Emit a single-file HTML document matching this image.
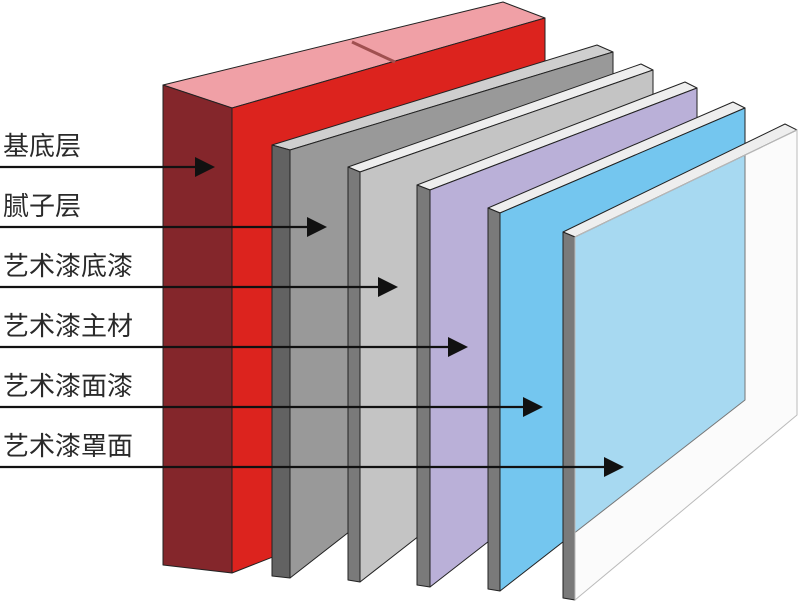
<!DOCTYPE html>
<html><head><meta charset="utf-8"><style>
html,body{margin:0;padding:0;background:#fff;}
svg{display:block;}
text{font-family:"Liberation Sans","Noto Sans CJK SC",sans-serif;font-size:26px;fill:#2a2a2a;}
</style></head><body>
<svg width="800" height="602" viewBox="0 0 800 602" xmlns="http://www.w3.org/2000/svg">
<g stroke="#222" stroke-width="1" stroke-linejoin="round">
<!-- red block -->
<polygon points="163,85 232,108 545,18 503,2" fill="#f0a0a6"/>
<polygon points="163,85 232,108 232,573 163,565" fill="#84262b"/>
<polygon points="232,108 545,18 545,450 232,573" fill="#dc231e"/>
<line x1="352" y1="42" x2="395" y2="62" stroke="#a05050" stroke-width="3"/>

<!-- plate 1 gray -->
<polygon points="272,145 290,150 613,52 597,45" fill="#cfcfcf"/>
<polygon points="272,145 290,150 290,578 272,576" fill="#626262"/>
<polygon points="290,150 613,52 613,326 290,578" fill="#999999"/>
<!-- plate 2 -->
<polygon points="348,167 360,172 653,70 641,64" fill="#eeeeee"/>
<polygon points="348,167 360,172 360,582 348,580" fill="#7a7a7a"/>
<polygon points="360,172 653,70 653,353 360,582" fill="#c4c4c4"/>
<!-- plate 3 -->
<polygon points="417,185 430,190 697,88 685,82" fill="#eeeeee"/>
<polygon points="417,185 430,190 430,587 417,585" fill="#7a7a7a"/>
<polygon points="430,190 697,88 697,379 430,587" fill="#bab0d8"/>
<!-- plate 4 -->
<polygon points="488,208 500,213 745,108 733,102" fill="#eeeeee"/>
<polygon points="488,208 500,213 500,591 488,589" fill="#7a7a7a"/>
<polygon points="500,213 745,108 745,400 500,591" fill="#74c6ef"/>
<!-- plate 5 glass -->
<polygon points="563,232 575,237 797,130 785,124" fill="#eeeeee"/>
<polygon points="563,232 575,237 575,600 563,598" fill="#7a7a7a"/>
<polygon points="575,237 797,130 797,415 575,600" fill="#f5f5f5" fill-opacity="0.4" stroke="#bbb"/>
</g>

<!-- arrows -->
<g stroke="#111" stroke-width="2.2">
<line x1="0" y1="167" x2="200" y2="167"/>
<line x1="0" y1="227" x2="312" y2="227"/>
<line x1="0" y1="287" x2="383" y2="287"/>
<line x1="0" y1="347" x2="453" y2="347"/>
<line x1="0" y1="407" x2="528" y2="407"/>
<line x1="0" y1="467" x2="609" y2="467"/>
</g>
<g fill="#111">
<polygon points="195,157 215,167 195,177"/>
<polygon points="307,217 327,227 307,237"/>
<polygon points="378,277 398,287 378,297"/>
<polygon points="448,337 468,347 448,357"/>
<polygon points="523,397 543,407 523,417"/>
<polygon points="604,457 624,467 604,477"/>
</g>

<text x="3" y="155">基底层</text>
<text x="3" y="215">腻子层</text>
<text x="3" y="275">艺术漆底漆</text>
<text x="3" y="335">艺术漆主材</text>
<text x="3" y="395">艺术漆面漆</text>
<text x="3" y="455">艺术漆罩面</text>
</svg>
</body></html>
